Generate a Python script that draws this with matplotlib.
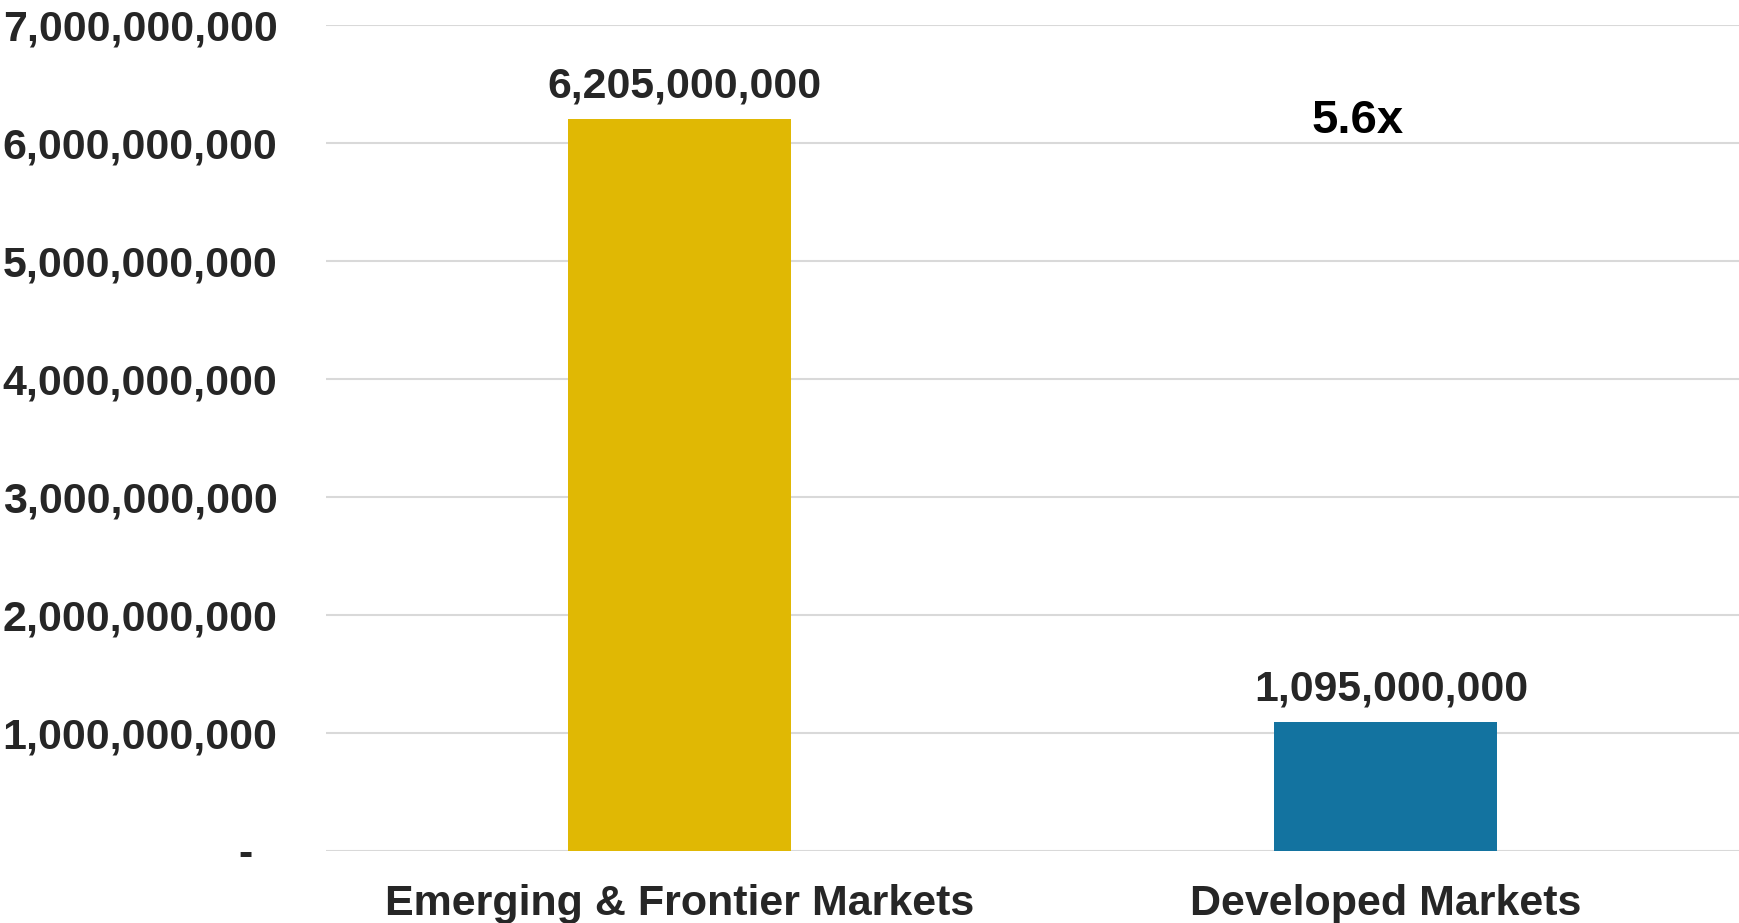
import matplotlib
matplotlib.use("Agg")
import matplotlib.pyplot as plt
from matplotlib.ticker import FixedLocator

plt.rcParams['font.family'] = ['Liberation Sans', 'DejaVu Sans']
plt.rcParams['font.weight'] = 'bold'

categories = ["Emerging & Frontier Markets", "Developed Markets"]
values = [6205000000, 1095000000]
bar_colors = ["#E0B804", "#1373A0"]
yticks = [0, 1e9, 2e9, 3e9, 4e9, 5e9, 6e9, 7e9]
ratio_text = "5.6x"

TEXT = "#262626"

fig = plt.figure(figsize=(17.39, 9.23), dpi=100)
ax = fig.add_axes([326 / 1739, 72 / 923, 1 - 326 / 1739, 826 / 923])

xs = list(range(len(categories)))
bars = ax.bar(xs, values, width=0.315, color=bar_colors, zorder=3)

# value labels over each bar
for x, v in zip(xs, values):
    ax.annotate(f"{v:,.0f}", (x, v), xytext=(4, 9), textcoords="offset points",
                ha="center", va="bottom", fontsize=30.8, fontweight="bold", color=TEXT)

# multiple between the two markets
ax.text(0.96, 6.19e9, ratio_text, ha="center", va="center",
        fontsize=34, fontweight="bold", color="black")

ax.set_xlim(-0.5, 1.5)
ax.set_ylim(0, 7e9)

ax.yaxis.set_major_locator(FixedLocator(yticks))
ax.set_yticklabels([f"{t:,.0f}" if t else "-  " for t in yticks])
ax.set_xticks(xs)
ax.set_xticklabels(categories)

ax.tick_params(axis="y", length=0, pad=35, labelsize=31, labelcolor=TEXT)
ax.tick_params(axis="x", length=0, pad=24, labelsize=31, labelcolor=TEXT)
for lbl in ax.get_xticklabels() + ax.get_yticklabels():
    lbl.set_fontweight("bold")

ax.grid(axis="y", color="#D9D9D9", linewidth=1.5, zorder=0)
ax.set_axisbelow(True)
for s in ax.spines.values():
    s.set_visible(False)

plt.savefig("out.png", dpi=100)
